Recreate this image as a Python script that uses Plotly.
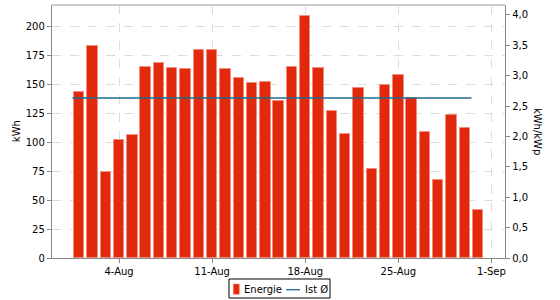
import plotly.graph_objects as go
import pandas as pd

# ---- data ----
dates = pd.date_range("2024-08-01", "2024-08-31", freq="D")
energy_kwh = [143.7, 183.4, 74.4, 102.3, 106.3, 164.9, 168.1, 163.8, 163.5, 179.9,
              179.3, 163.5, 155.8, 151.4, 152.3, 135.9, 164.7, 208.6, 163.8, 126.7,
              107.5, 147.2, 77.0, 149.7, 158.4, 138.2, 108.6, 67.5, 123.6, 112.4, 41.7]
kwp = 52.5
avg_kwh = sum(energy_kwh) / len(energy_kwh)
avg_line_x = ["2024-07-31 12:00", "2024-08-30 12:00"]
x_tick_vals = ["2024-08-04", "2024-08-11", "2024-08-18", "2024-08-25", "2024-09-01"]
x_tick_text = ["4-Aug", "11-Aug", "18-Aug", "25-Aug", "1-Sep"]
left_ticks = [0, 25, 50, 75, 100, 125, 150, 175, 200]
right_ticks = [0, 0.5, 1.0, 1.5, 2.0, 2.5, 3.0, 3.5, 4.0]
right_tick_text = ["0,0", "0,5", "1,0", "1,5", "2,0", "2,5", "3,0", "3,5", "4,0"]
series_names = ["Energie", "Ist Ø"]

bar_color = "#E3290B"
bar_edge = "#F28C7C"
line_color = "#1F6B8E"
y_top = 218.5
font = dict(family="DejaVu Sans", size=10, color="#000")

fig = go.Figure()
fig.add_trace(go.Bar(
    x=dates, y=energy_kwh, name=series_names[0],
    width=[0.78 * 86400000] * len(energy_kwh),
    marker=dict(color=bar_color, line=dict(color=bar_edge, width=1)),
    showlegend=False,
))
fig.add_trace(go.Scatter(
    x=avg_line_x, y=[avg_kwh, avg_kwh], mode="lines", name=series_names[1],
    line=dict(color=line_color, width=1.3), showlegend=False,
))
# invisible trace on right axis to show it
fig.add_trace(go.Scatter(x=[dates[0]], y=[0], yaxis="y2", mode="markers",
                         marker=dict(opacity=0), showlegend=False, hoverinfo="skip"))

# compact legend drawn below the plot (paper coordinates)
legend_shapes = [
    dict(type="rect", xref="paper", yref="paper", x0=0.3907, x1=0.6137, y0=-0.1581, y1=-0.0830,
         line=dict(color="#000", width=1), fillcolor="white"),
    dict(type="rect", xref="paper", yref="paper", x0=0.4002, x1=0.4135, y0=-0.1435, y1=-0.1028,
         line=dict(color=bar_edge, width=0.6), fillcolor=bar_color),
    dict(type="line", xref="paper", yref="paper", x0=0.5166, x1=0.5475, y0=-0.1253, y1=-0.1253,
         line=dict(color=line_color, width=1.3)),
    dict(type="line", xref="paper", yref="paper", x0=0, x1=1, y0=1, y1=1,
         line=dict(color="#bbb", width=1.3)),
]
legend_annotations = [
    dict(text=series_names[0], xref="paper", yref="paper", x=0.420, y=-0.1253,
         xanchor="left", yanchor="middle", showarrow=False, font=font),
    dict(text=series_names[1], xref="paper", yref="paper", x=0.554, y=-0.1253,
         xanchor="left", yanchor="middle", showarrow=False, font=font),
]

fig.update_layout(
    width=560, height=300,
    margin=dict(l=52, r=55, t=5, b=42, autoexpand=False),
    paper_bgcolor="white", plot_bgcolor="white",
    font=font,
    bargap=0,
    showlegend=False,
    xaxis=dict(
        type="date", range=["2024-07-29 23:00", "2024-09-02 00:30"],
        tickvals=x_tick_vals, ticktext=x_tick_text,
        showgrid=True, gridcolor="#dcdcdc", griddash="dash", gridwidth=1,
        showline=True, linecolor="#888", linewidth=1.3,
        ticks="outside", ticklen=4, tickcolor="#888",
        zeroline=False,
    ),
    yaxis=dict(
        range=[0, y_top], tickvals=left_ticks,
        showgrid=True, gridcolor="#dcdcdc", griddash="dash", gridwidth=1,
        showline=True, linecolor="#888", linewidth=1.3,
        ticks="outside", ticklen=4, tickcolor="#888",
        zeroline=False,
    ),
    yaxis2=dict(
        overlaying="y", side="right", range=[0, y_top / kwp],
        tickvals=right_ticks, ticktext=right_tick_text,
        showgrid=False, showline=True, linecolor="#888", linewidth=1.3,
        ticks="outside", ticklen=4, tickcolor="#888",
        zeroline=False,
    ),
    annotations=[
        dict(text="kWh", xref="paper", yref="paper", x=-0.078, y=0.5,
             textangle=-90, showarrow=False, xanchor="center", yanchor="middle", font=font),
        dict(text="kWh/kWp", xref="paper", yref="paper", x=1.072, y=0.5,
             textangle=90, showarrow=False, xanchor="center", yanchor="middle", font=font),
    ] + legend_annotations,
    shapes=legend_shapes,
)

fig.write_html("out.html")
